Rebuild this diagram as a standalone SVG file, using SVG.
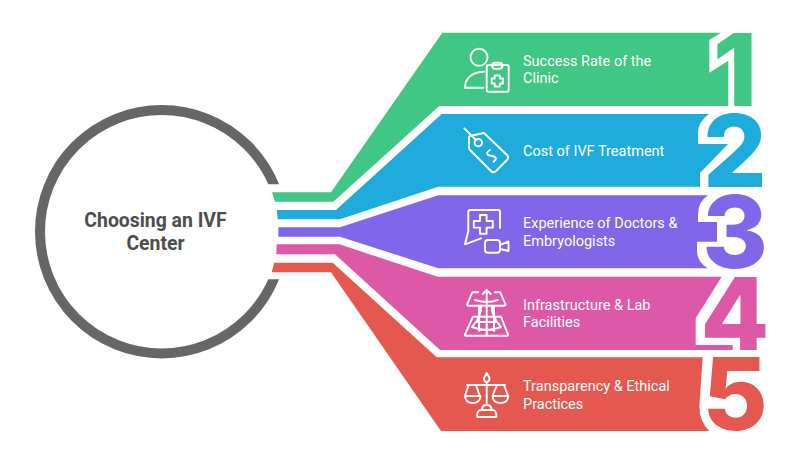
<svg xmlns="http://www.w3.org/2000/svg" width="800" height="456" viewBox="0 0 800 456">
<defs>
<clipPath id="ringClip"><path d="M0 0H800V184.300H200V279.300H800V456H0Z"/></clipPath>
</defs>
<style>
.digit{font-family:Inter,Roboto,"Liberation Sans",sans-serif;font-weight:800;font-size:100px;text-anchor:middle}
.label{font-family:Roboto,"Liberation Sans",sans-serif;font-size:14.5px;fill:#fff}
.title{font-family:Roboto,"Liberation Sans",sans-serif;font-size:19.4px;font-weight:700;fill:#4d4d4d;text-anchor:middle}
.ic{fill:none;stroke:#fff;stroke-width:1.9;stroke-linecap:round;stroke-linejoin:round}
</style>
<rect width="800" height="456" fill="#fff"/>
<g id="center">
<circle cx="161.700" cy="231.700" r="121.700" fill="none" stroke="#666" stroke-width="10" clip-path="url(#ringClip)"/>
<text class="title" x="155.500" y="227">Choosing an IVF</text>
<text class="title" x="155.500" y="250">Center</text>
</g>
<g id="connectors"></g>
<g id="node1">
<path fill="#3FC783" d="M272 192.300H331L442.300 32.700H721L709.300 40V72.700L728.300 60.700V106H439.300L333.300 201.700H275Z"/>
<text class="digit" x="735" y="106" fill="#3FC783">1</text>
<g class="ic"><circle cx="479" cy="57.300" r="8.500"/><path d="M483.300 87.700H465C465 78 473 71.700 484 71.700"/><rect x="486.700" y="65" width="22" height="26.700" rx="2"/><rect x="492.300" y="62.700" width="10" height="6" rx="2.500"/><path d="M494.700 75.500H500V78.500H503V83.500H500V86.500H494.700V83.500H491.700V78.500H494.700Z"/></g>
<text class="label" x="523" y="65.500">Success Rate of the</text>
<text class="label" x="523" y="83">Clinic</text>
</g>
<g id="node2">
<path fill="#1FACDC" d="M276.700 210H336L441.700 114H709Q698 122 698 133V144H728L700 173V186.700H438.300L340 219.300H277.700Z"/>
<text class="digit" x="735" y="186.700" fill="#1FACDC">2</text>
<g class="ic"><path d="M464.300 128.300L476 140"/><circle cx="478.300" cy="142.700" r="3.700"/><path d="M470 136L484 133L507 155Q509.500 157.500 507 160L496 171Q493.500 173.500 491 171L470 150Q469 149 469 147.500V137Z"/><path d="M490 150Q485.500 152.500 488 155L494 156.500Q498 158 493.500 161.700"/></g>
<text class="label" x="523" y="155.500">Cost of IVF Treatment</text>
</g>
<g id="node3">
<path fill="#8066E8" d="M278.300 227.300H340L438.300 195.300H708Q698 202 698 214V222H717V241.700H697V252Q698 263 708 268.300H438.300L340 236.700H278.300Z"/>
<text class="digit" x="735" y="267.500" fill="#8066E8">3</text>
<g class="ic"><path d="M500 228V212Q500 210 498 210H470.300Q468.300 210 468.300 212V231L465 244.300L481 238.300"/><path d="M480 215H486.600V221H492.800V227.600H486.600V233.800H480V227.600H473.800V221H480Z"/><rect x="485" y="240" width="15" height="12.700" rx="3"/><path d="M500 245L508.500 241.500V251L500 249"/></g>
<text class="label" x="523" y="228">Experience of Doctors &amp;</text>
<text class="label" x="523" y="245.500">Embryologists</text>
</g>
<g id="node4">
<path fill="#DE58A8" d="M276.700 244.300H339.300L437.700 276.700H721.700L695.700 318.300V345H732.700V350H440L335 254.300H276.300Z"/>
<text class="digit" x="735" y="350" fill="#DE58A8">4</text>
<g class="ic"><path d="M478.300 292.300H472.300L467.300 304Q466.500 305.700 469 305.700H503.500Q506 305.700 505.300 304L500.300 292.300H495"/><path d="M473 316.700L465 334.500Q464.500 335.700 466 335.700H507Q508.500 335.700 508 334.500L501 316.700H473"/><path d="M486.700 335V290M482.700 294L486.700 290L490.700 294"/><path d="M475 300Q486.700 304 498 300M481 305.700Q482 316 472 327Q486.700 333 501 327Q491 316 492 305.700M479 305.700V331M494 305.700V331M476 322H497"/></g>
<text class="label" x="523" y="309.500">Infrastructure &amp; Lab</text>
<text class="label" x="523" y="327">Facilities</text>
</g>
<g id="node5">
<path fill="#E55850" d="M274.300 262.700H332.700L436.700 357.300H702.700L699.300 406.700Q699.500 421 709.300 431H441L331 272.300H271.700Z"/>
<text class="digit" x="735" y="430" fill="#E55850">5</text>
<g class="ic"><path d="M486.700 373L489.500 378Q489.500 382 486.700 382Q484 382 484 378ZM486.700 382V405M467 385H505M468.500 385L465 396M476 385L479.800 396M497 385L492.500 396M504 385L508 396M465 396H480.500Q480 403 472.700 403Q465.500 403 465 396ZM492.500 396H508.300Q508 403 500.300 403Q493 403 492.500 396ZM477.500 417H496Q497 417 496 413Q495 410 492.500 410H481Q478.500 410 477.500 413Q476.700 417 477.500 417ZM482 410Q482 405 486.700 405Q491.500 405 491.500 410"/></g>
<text class="label" x="523" y="391">Transparency &amp; Ethical</text>
<text class="label" x="523" y="408.500">Practices</text>
</g>
</svg>
